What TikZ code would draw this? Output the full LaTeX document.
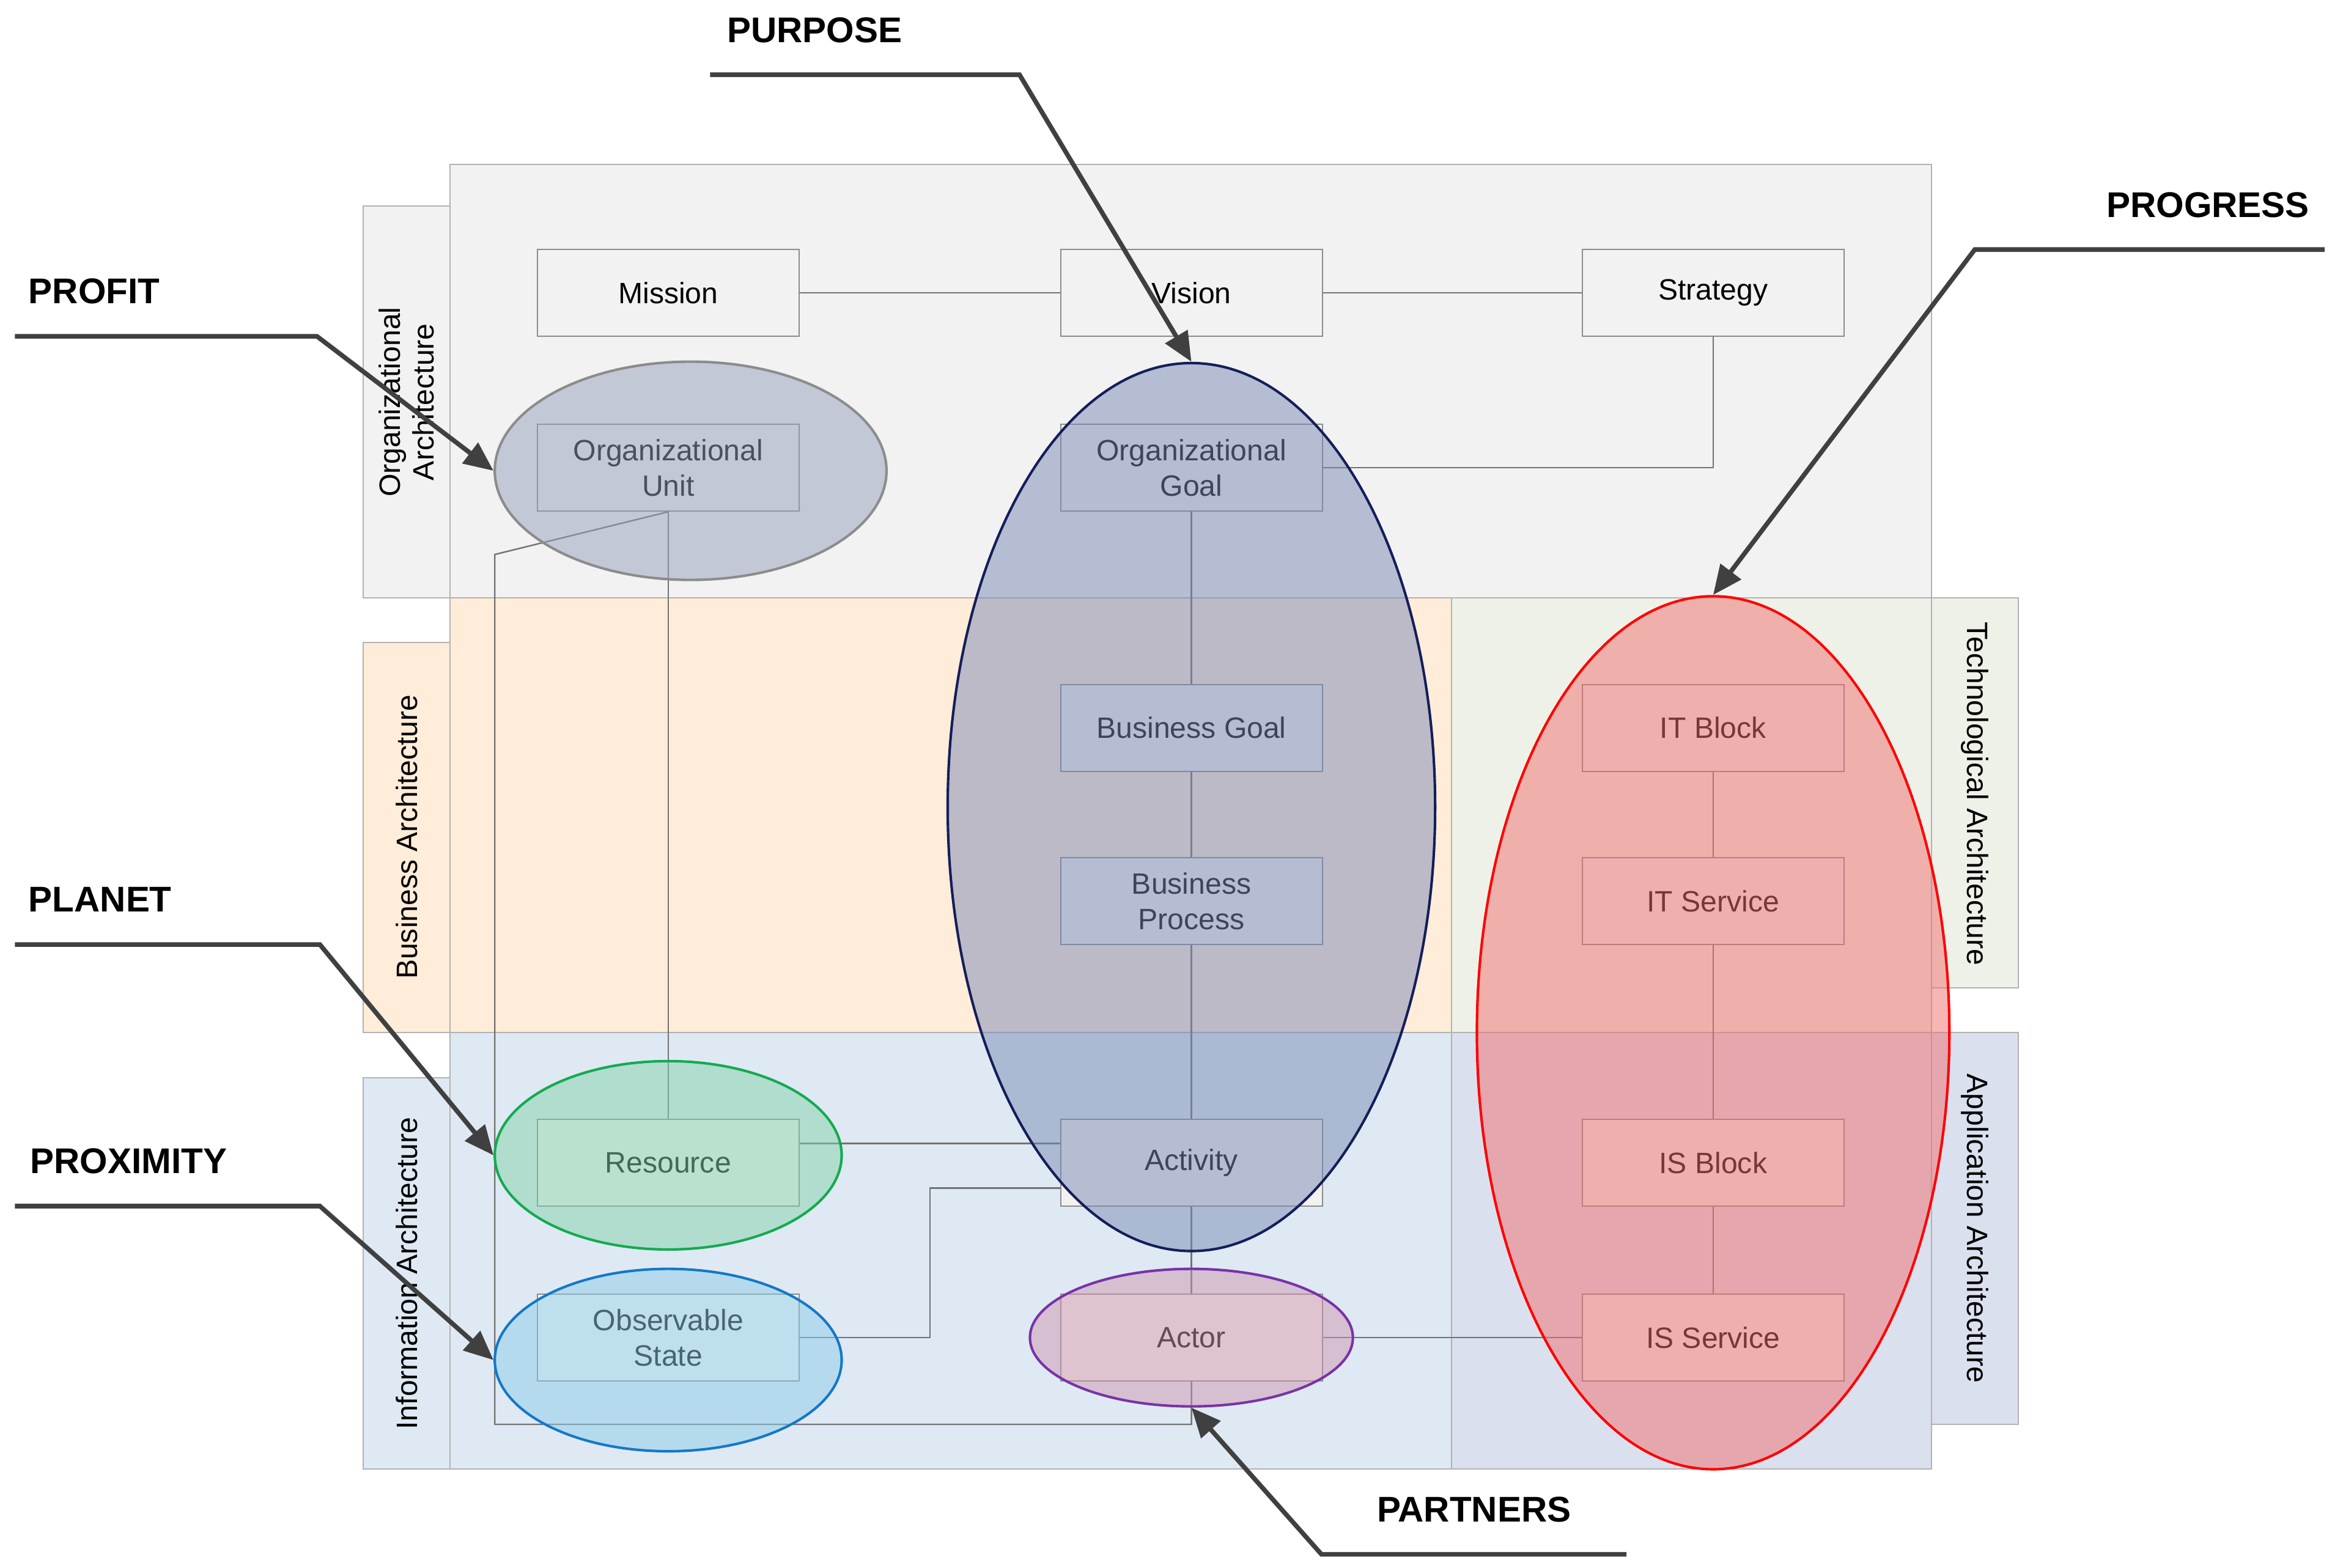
\documentclass[tikz,border=0pt]{standalone}
\usepackage{fontspec}
\setmainfont{Liberation Sans}
\usetikzlibrary{shapes.geometric,arrows.meta}
\begin{document}
\begin{tikzpicture}[x=0.025cm,y=-0.025cm,
 panel/.style={draw=black!30,line width=0.6pt},
 box/.style={draw=black!45,fill=black!5,line width=0.6pt,minimum width=4.375cm,minimum height=1.45cm,align=center,inner sep=0pt,font=\fontsize{14}{17}\selectfont},
 conn/.style={draw=black!55,line width=0.7pt},
 ell/.style={ellipse,inner sep=0pt,line width=1.2pt,fill opacity=0.5},
 tab/.style={font=\fontsize{14}{16}\selectfont,align=center},
 call/.style={draw=black!75,line width=2.2pt,-{Triangle[length=14pt,width=12pt]}},
 ctext/.style={font=\bfseries\fontsize{17}{20}\selectfont}]
\useasboundingbox (0,0) rectangle (1560,1049);
% panels
\fill[black!5,panel] (243,138) rectangle (301,400);
\fill[black!5,panel] (301,110) rectangle (1292,400);
\fill[orange!15,panel] (243,430) rectangle (301,691);
\fill[orange!15,panel] (301,400) rectangle (971,691);
\fill[fill={rgb,255:red,238;green,241;blue,232},panel] (971,400) rectangle (1292,691);
\fill[fill={rgb,255:red,238;green,241;blue,232},panel] (1292,400) rectangle (1350,661);
\fill[fill={rgb,255:red,223;green,233;blue,243},panel] (243,721) rectangle (301,983);
\fill[fill={rgb,255:red,223;green,233;blue,243},panel] (301,691) rectangle (971,983);
\fill[fill={rgb,255:red,219;green,224;blue,238},panel] (971,691) rectangle (1292,983);
\fill[fill={rgb,255:red,219;green,224;blue,238},panel] (1292,691) rectangle (1350,953);
\node[tab,rotate=90] (toa) at (272,269) {Organizational\\Architecture};
\node[tab,rotate=90] (tba) at (272,560) {Business Architecture};
\node[tab,rotate=90] (tia) at (272,852) {Information Architecture};
\node[tab,rotate=-90] (tta) at (1321,531) {Technological Architecture};
\node[tab,rotate=-90] (tapp) at (1321,822) {Application Architecture};
% boxes
\node[box] (mis) at (447,196) {Mission};
\node[box] (vis) at (797,196) {Vision};
\node[box] (str) at (1146,196) {Strategy};
\node[box] (ou) at (447,313) {Organizational\\Unit};
\node[box] (og) at (797,313) {Organizational\\Goal};
\node[box] (bg) at (797,487) {Business Goal};
\node[box] (bp) at (797,603) {Business\\Process};
\node[box] (itb) at (1146,487) {IT Block};
\node[box] (its) at (1146,603) {IT Service};
\node[box] (res) at (447,778) {Resource};
\node[box] (act) at (797,778) {Activity};
\node[box] (isb) at (1146,778) {IS Block};
\node[box] (os) at (447,895) {Observable\\State};
\node[box] (actor) at (797,895) {Actor};
\node[box] (iss) at (1146,895) {IS Service};
% connectors
\coordinate (c1) at (331,371); \coordinate (c2) at (331,953); \coordinate (c3) at (797,953);
\coordinate (c4) at (622,895); \coordinate (c5) at (622,795);
\draw[conn] (mis) -- (vis); \draw[conn] (vis) -- (str);
\draw[conn] (str.south) |- (og.east);
\draw[conn] (og) -- (bg); \draw[conn] (bg) -- (bp); \draw[conn] (bp) -- (act); \draw[conn] (act) -- (actor);
\draw[conn] (ou) -- (res);
\draw[conn] (ou.south) -- (c1) -- (c2) -- (c3) -- (actor.south);
\draw[conn] (res.east |- 0,765) -- (act.west |- 0,765);
\draw[conn] (os.east) -- (c4) -- (c5) -- (act.west |- c5);
\draw[conn] (itb) -- (its); \draw[conn] (its) -- (isb); \draw[conn] (isb) -- (iss);
\draw[conn] (actor) -- (iss);
% ellipses
\node[ell,draw=black!45,fill={rgb,255:red,150;green,160;blue,190},minimum width=6.55cm,minimum height=3.65cm] (eou) at (462,315) {};
\node[ell,draw={rgb,255:red,20;green,30;blue,90},fill={rgb,255:red,120;green,138;blue,180},minimum width=8.15cm,minimum height=14.85cm] (epur) at (797,540) {};
\node[ell,draw=red,fill={rgb,255:red,240;green,110;blue,110},minimum width=7.9cm,minimum height=14.6cm] (epro) at (1146,691) {};
\node[ell,draw={rgb,255:red,20;green,170;blue,80},fill={rgb,255:red,130;green,210;blue,170},minimum width=5.8cm,minimum height=3.15cm] (eres) at (447,773) {};
\node[ell,draw={rgb,255:red,20;green,120;blue,200},fill={rgb,255:red,140;green,205;blue,235},minimum width=5.8cm,minimum height=3.05cm] (eos) at (447,910) {};
\node[ell,draw={rgb,255:red,120;green,50;blue,170},fill={rgb,255:red,205;green,150;blue,175},minimum width=5.4cm,minimum height=2.3cm] (eact) at (797,895) {};
% callouts
\node[ctext] (tpur) at (545,20) {PURPOSE};
\node[ctext] (tprof) at (63,195) {PROFIT};
\node[ctext] (tprog) at (1477,137) {PROGRESS};
\node[ctext] (tpla) at (67,602) {PLANET};
\node[ctext] (tprox) at (86,777) {PROXIMITY};
\node[ctext] (tpar) at (986,1010) {PARTNERS};
\coordinate (p1) at (475,50); \coordinate (p2) at (682,50);
\draw[call] (p1) -- (p2) -- (epur.north);
\coordinate (q1) at (10,225); \coordinate (q2) at (212,225);
\draw[call] (q1) -- (q2) -- (eou.west);
\coordinate (r1) at (1555,167); \coordinate (r2) at (1321,167);
\draw[call] (r1) -- (r2) -- (epro.north);
\coordinate (s1) at (10,632); \coordinate (s2) at (214,632);
\draw[call] (s1) -- (s2) -- (eres.west);
\coordinate (t1) at (10,807); \coordinate (t2) at (214,807);
\draw[call] (t1) -- (t2) -- (eos.west);
\coordinate (u1) at (1088,1040); \coordinate (u2) at (884,1040);
\draw[call] (u1) -- (u2) -- (eact.south);
\end{tikzpicture}
\end{document}
